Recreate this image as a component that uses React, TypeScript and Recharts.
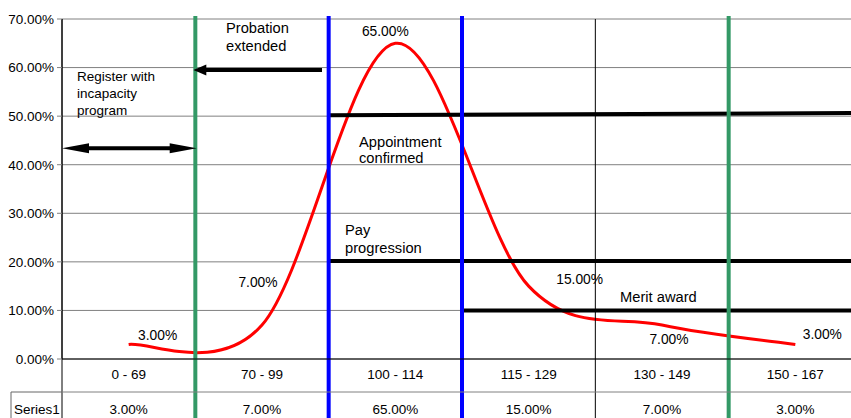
import { LineChart, Line, XAxis, YAxis, CartesianGrid, ReferenceLine, ReferenceDot, LabelList } from "recharts"

const categories = ["0 - 69", "70 - 99", "100 - 114", "115 - 129", "130 - 149", "150 - 167"]
const series1 = [3, 7, 65, 15, 7, 3]
const seriesName = "Series1"
const yTicks = [0, 10, 20, 30, 40, 50, 60, 70]
const xTicks = categories.map((_, i) => i + 0.5)

const chartData = categories.map((cat, i) => ({ cat, pos: i + 0.5, value: series1[i] }))

const FONT = "'Liberation Sans', Arial, sans-serif"
const CHART_W = 862
const CHART_H = 418
const PLOT_W = 800
const CELL_W = PLOT_W / 6
const GREEN = "#339966"
const BLUE = "#0000ff"

const fmt = (v: number) => `${v.toFixed(2)}%`

// where Excel's labels were dragged to, relative to their points
const labelOffsets = [
  { dx: 29, dy: -9 },
  { dx: -4, dy: -43 },
  { dx: -10, dy: -12 },
  { dx: 51, dy: -7 },
  { dx: 7, dy: 14 },
  { dx: 27, dy: -10 },
]

// Excel style smoothing (catmull-rom through every point)
function excelSmooth(context: any) {
  let pts: number[][] = []
  return {
    areaStart() {},
    areaEnd() {},
    lineStart() {
      pts = []
    },
    lineEnd() {
      if (!pts.length) return
      context.moveTo(pts[0][0], pts[0][1])
      for (let i = 0; i < pts.length - 1; i++) {
        const p0 = pts[Math.max(i - 1, 0)]
        const p1 = pts[i]
        const p2 = pts[i + 1]
        const p3 = pts[Math.min(i + 2, pts.length - 1)]
        context.bezierCurveTo(
          p1[0] + (p2[0] - p0[0]) / 6,
          p1[1] + (p2[1] - p0[1]) / 6,
          p2[0] - (p3[0] - p1[0]) / 6,
          p2[1] - (p3[1] - p1[1]) / 6,
          p2[0],
          p2[1],
        )
      }
    },
    point(x: number, y: number) {
      pts.push([+x, +y])
    },
  }
}

const tallLine = (color: string, width: number, above: number) => (p: any) => (
  <line
    x1={p.x1}
    x2={p.x1}
    y1={Math.min(p.y1, p.y2) - above}
    y2={CHART_H}
    stroke={color}
    strokeWidth={width}
  />
)

const arrow = (startHead: boolean, endHead: boolean, len: number, half: number) => (p: any) => {
  const xa = Math.min(p.x1, p.x2)
  const xb = Math.max(p.x1, p.x2)
  const y = p.y1
  return (
    <g>
      <line x1={startHead ? xa + len - 2 : xa} x2={endHead ? xb - len + 2 : xb} y1={y} y2={y} stroke="#000" strokeWidth={4} />
      {startHead && <polygon points={`${xa},${y} ${xa + len},${y - half} ${xa + len},${y + half}`} fill="#000" />}
      {endHead && <polygon points={`${xb},${y} ${xb - len},${y - half} ${xb - len},${y + half}`} fill="#000" />}
    </g>
  )
}

const note = (lines: string[], size: number, gap: number) => (p: any) => (
  <g>
    {lines.map((l, i) => (
      <text key={i} x={p.cx} y={p.cy + i * gap} fontSize={size} fontFamily={FONT} fill="#000" dominantBaseline="central">
        {l}
      </text>
    ))}
  </g>
)

function CategoryTick(props: any) {
  const { x, y, payload } = props
  const i = Math.floor(payload.value)
  const left = x - CELL_W / 2
  return (
    <g>
      <text x={x} y={y + 15} textAnchor="middle" dominantBaseline="central" fontSize={13.5} fontFamily={FONT} fill="#000">
        {categories[i]}
      </text>
      <line x1={left} x2={left + CELL_W} y1={y + 33} y2={y + 33} stroke="#808080" />
      <text x={x} y={y + 50} textAnchor="middle" dominantBaseline="central" fontSize={13.5} fontFamily={FONT} fill="#000">
        {fmt(series1[i])}
      </text>
      {i === 0 && (
        <g>
          <path d={`M${left - 51},${CHART_H} L${left - 51},${y + 33} L${left},${y + 33}`} fill="none" stroke="#666" />
          <text x={left - 25} y={y + 50} textAnchor="middle" dominantBaseline="central" fontSize={13.5} fontFamily={FONT} fill="#000">
            {seriesName}
          </text>
        </g>
      )}
    </g>
  )
}

function DataLabel(props: any) {
  const { x, y, value, index } = props
  const o = labelOffsets[index]
  return (
    <text x={x + o.dx} y={y + o.dy} textAnchor="middle" dominantBaseline="central" fontSize={13.8} fontFamily={FONT} fill="#000">
      {fmt(value)}
    </text>
  )
}

export default function App() {
  return (
    <div style={{ position: "fixed", left: 0, top: 0, width: 851, height: 418, overflow: "hidden", background: "#fff" }}>
      <LineChart width={CHART_W} height={CHART_H} data={chartData} margin={{ top: 19, right: 0, bottom: 0, left: 0 }}>
        <CartesianGrid horizontal vertical={false} stroke="#808080" />
        <XAxis
          dataKey="pos"
          type="number"
          domain={[0, 6]}
          ticks={xTicks}
          height={59}
          tickSize={0}
          tickMargin={0}
          tickLine={false}
          axisLine={{ stroke: "#000" }}
          tick={<CategoryTick />}
          interval={0}
        />
        <YAxis
          width={62}
          domain={[0, 70]}
          ticks={yTicks}
          tickFormatter={fmt}
          tickSize={5}
          tickMargin={3}
          tickLine={{ stroke: "#808080" }}
          axisLine={{ stroke: "#000" }}
          tick={{ fill: "#000", fontSize: 13.5, fontFamily: FONT }}
          interval={0}
        />
        <Line
          dataKey="value"
          type={excelSmooth as any}
          stroke="#ff0000"
          strokeWidth={3}
          dot={false}
          isAnimationActive={false}
        >
          <LabelList dataKey="value" content={<DataLabel />} />
        </Line>

        <ReferenceLine x={0} stroke="#000" shape={tallLine("#000", 1, 0)} />
        <ReferenceLine x={4} stroke="#000" shape={tallLine("#000", 1, 0)} />
        <ReferenceLine segment={[{ x: 2, y: 50.2 }, { x: 6, y: 50.65 }]} stroke="#000" strokeWidth={4} />
        <ReferenceLine segment={[{ x: 2, y: 20.2 }, { x: 6, y: 20.2 }]} stroke="#000" strokeWidth={4} />
        <ReferenceLine segment={[{ x: 3, y: 10 }, { x: 6, y: 10 }]} stroke="#000" strokeWidth={4} />
        <ReferenceLine x={1} stroke={GREEN} shape={tallLine(GREEN, 4, 3)} />
        <ReferenceLine x={5} stroke={GREEN} shape={tallLine(GREEN, 4, 3)} />
        <ReferenceLine x={2} stroke={BLUE} shape={tallLine(BLUE, 4, 3)} />
        <ReferenceLine x={3} stroke={BLUE} shape={tallLine(BLUE, 4, 3)} />

        <ReferenceLine segment={[{ x: 0, y: 43.4 }, { x: 1.01, y: 43.4 }]} shape={arrow(true, true, 27, 5)} />
        <ReferenceLine segment={[{ x: 0.985, y: 59.5 }, { x: 1.95, y: 59.5 }]} shape={arrow(true, false, 13, 5.5)} />

        <ReferenceDot x={0.1125} y={58.1} r={0} shape={note(["Register with", "incapacity", "program"], 13.5, 16.7)} />
        <ReferenceDot x={1.23} y={68.1} r={0} shape={note(["Probation", "extended"], 14.7, 17.7)} />
        <ReferenceDot x={2.2275} y={44.7} r={0} shape={note(["Appointment", "confirmed"], 14.7, 16.6)} />
        <ReferenceDot x={2.1225} y={26.6} r={0} shape={note(["Pay", "progression"], 14.7, 18.3)} />
        <ReferenceDot x={4.185} y={12.8} r={0} shape={note(["Merit award"], 14.7, 17)} />
      </LineChart>
    </div>
  )
}
